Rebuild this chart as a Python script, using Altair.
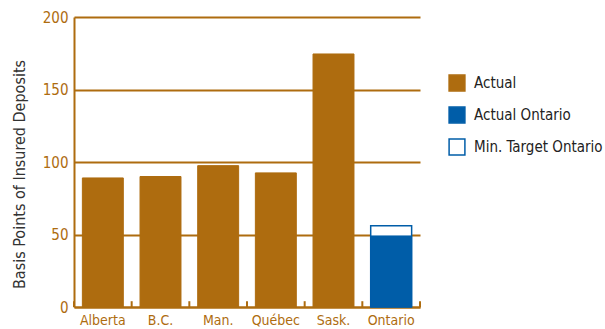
import altair as alt
import pandas as pd

categories = ["Alberta", "B.C.", "Man.", "Québec", "Sask.", "Ontario"]
actual_values = [89, 90, 97.5, 92.5, 174.5, 49]
series_names = ["Actual", "Actual", "Actual", "Actual", "Actual", "Actual Ontario"]
target_category = ["Ontario"]
target_values = [56]
legend_items = ["Actual", "Actual Ontario", "Min. Target Ontario"]
y_ticks = [0, 50, 100, 150, 200]

BROWN = "#AE6C0F"
BLUE = "#005DA8"
FONT = "DejaVu Sans Condensed, Roboto, sans-serif"

bars_df = pd.DataFrame({"cat": categories, "value": actual_values, "series": series_names})
target_df = pd.DataFrame({"cat": target_category, "value": target_values,
                          "series": ["Min. Target Ontario"]})
ticks_df = pd.DataFrame({"cat": categories, "lo": [0] * 6, "hi": [4] * 6})
end_df = pd.DataFrame({"cat": categories[-1:], "lo": [0], "hi": [4]})

xscale = alt.Scale(domain=categories, paddingInner=0, paddingOuter=0)
yscale = alt.Scale(domain=[0, 200], nice=False)
fill_scale = alt.Scale(domain=legend_items, range=[BROWN, BLUE, "white"])
stroke_scale = alt.Scale(domain=legend_items, range=[BROWN, BLUE, BLUE])

legend = alt.Legend(title=None, orient="none", legendX=374, legendY=57,
                    symbolType="square", symbolSize=250, symbolStrokeWidth=1.5,
                    labelFontSize=15, labelFont=FONT, labelColor="#222222",
                    rowPadding=10, labelOffset=8, labelLimit=200)

x_enc = alt.X("cat:N", scale=xscale, sort=categories,
              axis=alt.Axis(title=None, ticks=False, labelAngle=0, labelPadding=6,
                            labelFontSize=14, labelFont=FONT, labelColor=BROWN,
                            domainColor=BROWN, domainWidth=2))
y_enc = alt.Y("value:Q", scale=yscale,
              axis=alt.Axis(title="Basis Points of Insured Deposits", values=y_ticks,
                            ticks=False, grid=True, gridColor=BROWN, gridWidth=2,
                            domainColor=BROWN, domainWidth=2, labelPadding=6,
                            labelFontSize=15, labelFont=FONT, labelColor=BROWN,
                            titleFont=FONT, titleFontSize=16, titleFontWeight="normal",
                            titleColor="#333333", titlePadding=15, titleY=157))

target = alt.Chart(target_df).mark_bar(width=alt.RelativeBandSize(0.71), strokeWidth=1.5).encode(
    x=x_enc, y=y_enc,
    fill=alt.Fill("series:N", scale=fill_scale, legend=legend),
    stroke=alt.Stroke("series:N", scale=stroke_scale, legend=legend),
)

bars = alt.Chart(bars_df).mark_bar(width=alt.RelativeBandSize(0.71), strokeWidth=1).encode(
    x=x_enc, y="value:Q",
    fill=alt.Fill("series:N", scale=fill_scale, legend=legend),
    stroke=alt.Stroke("series:N", scale=stroke_scale, legend=legend),
)

ticks = alt.Chart(ticks_df).mark_rule(color=BROWN, strokeWidth=2).encode(
    x=alt.X("cat:N", scale=xscale, sort=categories, bandPosition=0),
    y=alt.Y("lo:Q", scale=yscale),
    y2="hi:Q",
)
end_tick = alt.Chart(end_df).mark_rule(color=BROWN, strokeWidth=2).encode(
    x=alt.X("cat:N", scale=xscale, sort=categories, bandPosition=1),
    y=alt.Y("lo:Q", scale=yscale),
    y2="hi:Q",
)

chart = alt.layer(target, bars, ticks, end_tick).properties(
    width=346, height=290,
    autosize=alt.AutoSizeParams(type="none"),
    padding={"left": 74, "top": 17, "right": 185, "bottom": 22},
).configure_view(stroke=None).configure_axis(gridCap="butt")

chart.save("out.html", embed_options={"renderer": "svg", "actions": False})
